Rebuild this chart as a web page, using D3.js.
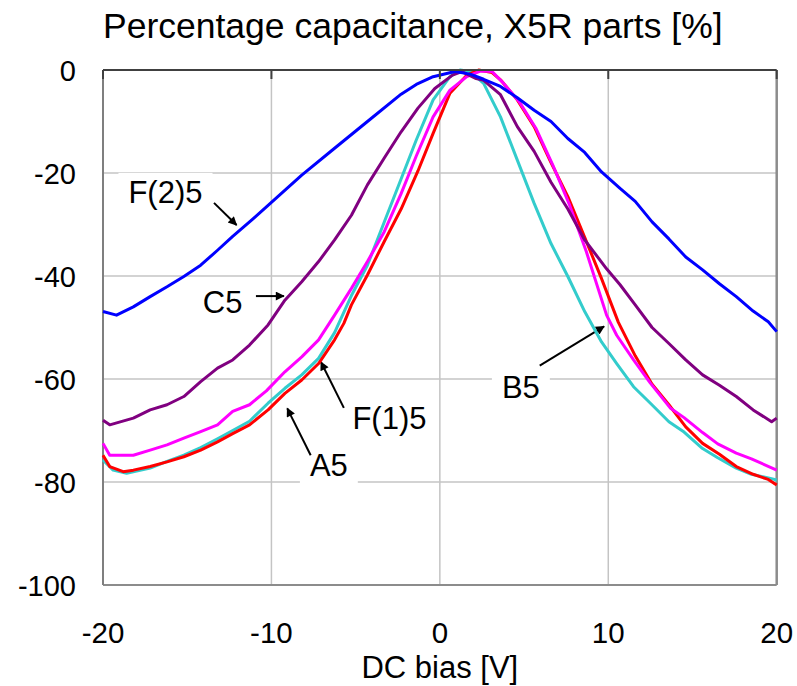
<!DOCTYPE html>
<html>
<head>
<meta charset="utf-8">
<script src="https://cdn.jsdelivr.net/npm/d3@7"></script>
<style>
    html, body { margin: 0; padding: 0; background: #fff; }
    svg text { font-family: Arial, "Liberation Sans", sans-serif; fill: #000; }
</style>
</head>
<body>
<div id="chart"></div>
<script>
// DC bias [V] and capacitance change [%]
const a5Bias = [-20, -19.6, -18.8, -18.2, -17.2, -16.2, -15.2, -14.2, -13.2, -12.3, -11.3, -10.2, -9.2, -8.2, -7.2, -6.25, -5.7, -5.25, -4.3, -3.3, -2.3, -1.3, -0.4, 0.6, 1.6, 2.3, 3.1, 3.6, 4.6, 5.6, 6.6, 7.6, 8.6, 9.6, 10.6, 11.6, 12.6, 13.6, 14.6, 15.6, 16.6, 17.6, 18.6, 19.5, 20];
const a5Cap = [-74.8, -77.0, -78.0, -77.7, -77.0, -76.1, -75.1, -73.8, -72.2, -70.6, -68.9, -66.0, -62.8, -60.2, -57.0, -52.4, -49.2, -45.6, -39.8, -33.3, -27.0, -19.6, -12.3, -4.5, -1.0, 0, -0.5, -1.9, -5.8, -11.0, -18.0, -24.6, -32.5, -40.5, -49.0, -55.5, -61.0, -65.0, -69.3, -72.5, -74.6, -77.0, -78.5, -79.5, -80.6];

const b5Bias = [-20, -19.4, -18.6, -17.2, -16.2, -15.2, -14.2, -13.2, -12.3, -11.3, -10.2, -9.2, -8.2, -7.2, -6.25, -5.25, -4.3, -3.3, -2.4, -1.4, -0.4, 0.6, 1.2, 1.8, 2.6, 3.6, 4.6, 5.6, 6.6, 7.6, 8.6, 9.6, 10.5, 11.5, 12.5, 13.6, 14.5, 15.6, 16.5, 17.6, 18.5, 19.5, 20];
const b5Cap = [-75.7, -77.7, -78.3, -77.3, -76.0, -74.8, -73.3, -71.6, -70.0, -68.2, -64.7, -61.8, -59.2, -56.0, -51.0, -43.8, -37.9, -29.5, -22.0, -13.6, -5.8, -1.3, 0, -0.3, -2.6, -9.1, -17.5, -25.9, -33.7, -40.1, -46.9, -52.8, -57.0, -61.5, -64.7, -68.3, -70.3, -73.5, -75.3, -77.3, -78.5, -79.2, -79.6];

const c5Bias = [-20, -19.6, -18.2, -17.2, -16.2, -15.2, -14.2, -13.2, -12.3, -11.3, -10.2, -9.2, -8.2, -7.2, -6.25, -5.25, -4.3, -3.3, -2.3, -1.3, -0.3, 0.75, 1.3, 2.1, 2.6, 3.6, 4.6, 5.6, 6.6, 7.6, 8.6, 9.9, 10.7, 11.6, 12.6, 13.6, 14.6, 15.6, 16.6, 17.6, 18.6, 19.7, 20];
const c5Cap = [-68.0, -68.9, -67.6, -66.0, -65.0, -63.4, -60.5, -57.9, -56.3, -53.4, -49.5, -44.7, -41.1, -37.2, -33.0, -28.2, -22.3, -17.1, -12.0, -7.4, -3.6, -1.0, -0.3, -1.6, -2.0, -4.8, -11.0, -15.8, -21.8, -27.0, -33.0, -38.6, -41.7, -45.6, -50.0, -53.1, -56.3, -59.2, -61.2, -63.4, -66.0, -68.3, -67.6];

const f1Bias = [-20, -19.6, -18.2, -17.2, -16.2, -15.2, -14.2, -13.2, -12.3, -11.3, -10.3, -9.2, -8.2, -7.2, -6.25, -5.25, -4.3, -3.3, -2.3, -1.4, -0.4, 0.6, 1.6, 2.4, 3.1, 3.7, 4.7, 5.7, 6.7, 7.7, 8.7, 9.9, 10.5, 11.5, 12.5, 13.7, 14.5, 15.6, 16.5, 17.6, 18.5, 20];
const f1Cap = [-72.5, -74.8, -74.8, -73.8, -72.8, -71.5, -70.2, -68.9, -66.3, -65.0, -62.3, -58.6, -55.7, -52.4, -47.6, -42.4, -37.2, -31.4, -24.0, -16.7, -9.1, -3.9, -1.3, -0.2, -0.3, -2.3, -6.1, -11.3, -18.4, -26.2, -35.3, -47.6, -51.5, -56.3, -60.8, -65.7, -67.5, -70.4, -72.6, -74.4, -75.5, -77.7];

const f2Bias = [-20, -19.2, -18.2, -17.2, -16.2, -15.2, -14.2, -13.2, -12.3, -11.3, -10.1, -8.2, -6.25, -4.3, -2.3, -1.4, -0.4, 0.9, 1.8, 2.6, 3.6, 4.6, 5.6, 6.6, 7.6, 8.6, 9.6, 10.7, 11.6, 12.6, 13.6, 14.6, 15.6, 16.6, 17.6, 18.6, 19.5, 20];
const f2Cap = [-46.9, -47.6, -46.0, -44.0, -42.1, -40.1, -37.9, -35.0, -32.3, -29.5, -26.0, -20.4, -15.2, -10.0, -4.7, -2.8, -1.3, -0.3, -0.8, -1.8, -3.2, -5.4, -7.8, -10.0, -13.3, -16.0, -19.8, -23.0, -25.5, -29.5, -32.8, -36.3, -38.8, -41.5, -44.0, -46.8, -48.9, -50.8];

const seriesNames = ['B5', 'A5', 'F(1)5', 'C5', 'F(2)5'];
const seriesColors = ['#33CCCC', '#FF0000', '#FF00FF', '#800080', '#0000FF'];
const seriesBias = [b5Bias, a5Bias, f1Bias, c5Bias, f2Bias];
const seriesCap = [b5Cap, a5Cap, f1Cap, c5Cap, f2Cap];

const xTicks = [-20, -10, 0, 10, 20];
const yTicks = [0, -20, -40, -60, -80, -100];

// callouts: label position and arrow (tail -> head), all in data units
const calloutLabels = ['F(2)5', 'C5', 'F(1)5', 'A5', 'B5'];
const calloutText = [[-16.29, -25.8], [-12.9, -47.1], [-2.99, -69.7], [-6.59, -78.8], [4.81, -63.6]];
const calloutFrom = [[-13.41, -25.8], [-10.92, -43.9], [-5.70, -65.6], [-7.67, -74.8], [5.93, -57.4]];
const calloutTo = [[-12.07, -30.1], [-9.26, -43.9], [-7.06, -56.7], [-9.06, -65.7], [9.75, -49.8]];

const width = 797;
const height = 686;
const margin = { top: 70, right: 20, bottom: 101, left: 103 };

const svg = d3.select('#chart')
    .append('svg')
    .attr('width', width)
    .attr('height', height);

const x = d3.scaleLinear()
    .domain([-20, 20])
    .range([margin.left, width - margin.right - 0.3]);
const y = d3.scaleLinear()
    .domain([-100, 0])
    .range([height - margin.bottom, margin.top]);

svg.append('defs').append('marker')
    .attr('id', 'arrow')
    .attr('viewBox', '0 0 10 10')
    .attr('refX', 9)
    .attr('refY', 5)
    .attr('markerWidth', 5.5)
    .attr('markerHeight', 4.5)
    .attr('markerUnits', 'strokeWidth')
    .attr('orient', 'auto')
    .append('path')
    .attr('d', 'M0,0 L10,5 L0,10 z')
    .attr('fill', '#000');

// gridlines
const grid = svg.append('g').attr('class', 'grid');
grid.selectAll('line.vgrid')
    .data(xTicks.filter(d => d > -20 && d < 20))
    .enter().append('line')
    .attr('x1', d => x(d)).attr('x2', d => x(d))
    .attr('y1', y(0)).attr('y2', y(-100))
    .attr('stroke', '#C4C4C4').attr('stroke-width', 1.5);
grid.selectAll('line.hgrid')
    .data(yTicks.filter(d => d < 0 && d > -100))
    .enter().append('line')
    .attr('x1', x(-20)).attr('x2', x(20))
    .attr('y1', d => y(d)).attr('y2', d => y(d))
    .attr('stroke', '#C4C4C4').attr('stroke-width', 1.5);

// frame: bottom / right plot border, left value axis
const frame = svg.append('g').attr('class', 'frame');
frame.append('line')
    .attr('x1', x(-20)).attr('x2', x(20)).attr('y1', y(-100)).attr('y2', y(-100))
    .attr('stroke', '#8C8C8C').attr('stroke-width', 2);
frame.append('line')
    .attr('x1', x(20)).attr('x2', x(20)).attr('y1', y(0)).attr('y2', y(-100))
    .attr('stroke', '#8C8C8C').attr('stroke-width', 2.5);
frame.append('line')
    .attr('x1', x(-20)).attr('x2', x(-20)).attr('y1', y(0)).attr('y2', y(-100))
    .attr('stroke', '#7F7F7F').attr('stroke-width', 2);

// label boxes hide the gridlines behind the callout text
const callouts = svg.append('g').attr('class', 'callouts');
const calloutTexts = callouts.selectAll('text')
    .data(calloutLabels)
    .enter().append('text')
    .attr('x', (d, i) => x(calloutText[i][0]))
    .attr('y', (d, i) => y(calloutText[i][1]))
    .attr('text-anchor', 'middle')
    .style('font-size', '31px')
    .text(d => d);
calloutTexts.each(function () {
    const b = this.getBBox();
    callouts.insert('rect', 'text')
        .attr('x', b.x - 10).attr('y', b.y - 2)
        .attr('width', b.width + 20).attr('height', b.height + 4)
        .attr('fill', '#fff');
});

// data lines
const line = d3.line()
    .x(d => x(d[0]))
    .y(d => y(d[1]));
svg.append('g').attr('class', 'series')
    .selectAll('path')
    .data(seriesNames)
    .enter().append('path')
    .attr('d', (d, i) => line(seriesBias[i].map((v, j) => [v, seriesCap[i][j]])))
    .attr('fill', 'none')
    .attr('stroke', (d, i) => seriesColors[i])
    .attr('stroke-width', 3)
    .attr('stroke-linejoin', 'round');

// category axis sits at 0 %, i.e. along the top edge
const topAxis = svg.append('g').attr('class', 'top-axis');
topAxis.append('line')
    .attr('x1', x(-20)).attr('x2', x(20)).attr('y1', y(0)).attr('y2', y(0))
    .attr('stroke', '#404040').attr('stroke-width', 2);
topAxis.selectAll('line.tick')
    .data(xTicks)
    .enter().append('line')
    .attr('x1', d => x(d)).attr('x2', d => x(d))
    .attr('y1', y(0)).attr('y2', y(0) + 9)
    .attr('stroke', '#404040').attr('stroke-width', 2);

// arrows
callouts.selectAll('line')
    .data(calloutLabels)
    .enter().append('line')
    .attr('x1', (d, i) => x(calloutFrom[i][0]))
    .attr('y1', (d, i) => y(calloutFrom[i][1]))
    .attr('x2', (d, i) => x(calloutTo[i][0]))
    .attr('y2', (d, i) => y(calloutTo[i][1]))
    .attr('stroke', '#000')
    .attr('stroke-width', 2)
    .attr('marker-end', 'url(#arrow)');
calloutTexts.raise();

// tick labels
svg.append('g').selectAll('text')
    .data(xTicks)
    .enter().append('text')
    .attr('x', d => x(d))
    .attr('y', 643)
    .attr('text-anchor', 'middle')
    .style('font-size', '29.5px')
    .text(d => d);
svg.append('g').selectAll('text')
    .data(yTicks)
    .enter().append('text')
    .attr('x', 76)
    .attr('y', d => y(d) + 10.5)
    .attr('text-anchor', 'end')
    .style('font-size', '29px')
    .text(d => d);

// titles
svg.append('text')
    .attr('x', x(0))
    .attr('y', 678)
    .attr('text-anchor', 'middle')
    .style('font-size', '31px')
    .text('DC bias [V]');
svg.append('text')
    .attr('x', 103)
    .attr('y', 38)
    .attr('text-anchor', 'start')
    .style('font-size', '35.5px')
    .text('Percentage capacitance, X5R parts [%]');
</script>
</body>
</html>
